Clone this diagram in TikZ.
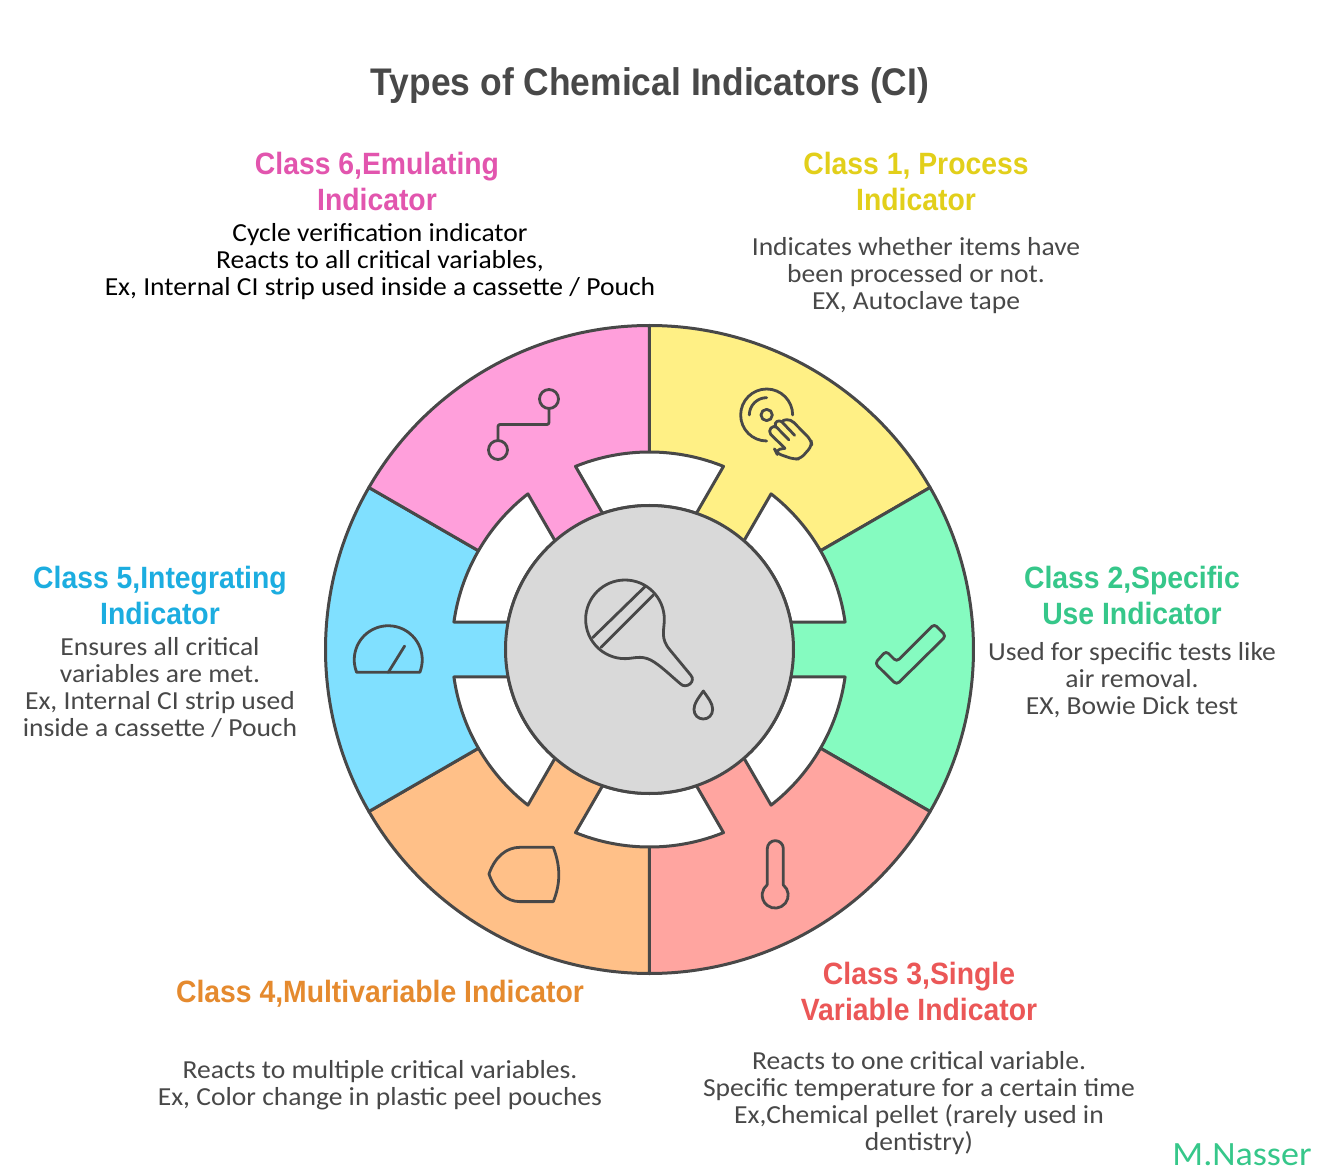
\documentclass[tikz,border=0pt]{standalone}
\usepackage{tikz}
\usetikzlibrary{arrows,positioning}
\usepackage{xcolor}
\usepackage{fontspec}
\setmainfont[FakeStretch=1.06]{Carlito}
\newfontfamily\headfont[FakeStretch=0.92]{Liberation Sans}
\definecolor{linegray}{HTML}{484848}
\definecolor{sixfill}{HTML}{FF9FDB}
\definecolor{onefill}{HTML}{FFF085}
\definecolor{twofill}{HTML}{85FBC0}
\definecolor{threefill}{HTML}{FFA5A0}
\definecolor{fourfill}{HTML}{FFC088}
\definecolor{fivefill}{HTML}{80E0FF}
\definecolor{hubfill}{HTML}{D9D9D9}
\definecolor{sixtext}{HTML}{E255AE}
\definecolor{onetext}{HTML}{E2CF1A}
\definecolor{twotext}{HTML}{36C78A}
\definecolor{threetext}{HTML}{EB5757}
\definecolor{fourtext}{HTML}{E58A2E}
\definecolor{fivetext}{HTML}{1CADE0}

\begin{document}
\begin{tikzpicture}[x=1pt,y=1pt,node distance=0pt,
	wheelpart/.style={draw=linegray,line width=3pt,line join=round},
	iconline/.style={draw=linegray,line width=2.8pt,line cap=round,line join=round},
	pixelframe/.style={shift={(-649.5,649.5)},yscale=-1},
	heading/.style={inner sep=0pt,align=center,font=\headfont\bfseries\fontsize{30.8}{36}\selectfont},
	bodytext/.style={inner sep=0pt,align=center,text=linegray,font=\fontsize{26}{27}\selectfont}]
	\path[use as bounding box,fill=white] (-649.5,-523.5) rectangle (667.5,649.5);

	% wheel
	\draw[wheelpart,fill=onefill]   (0,0) -- (90:324) arc[start angle=90,end angle=30,radius=324] -- cycle;
	\draw[wheelpart,fill=twofill]   (0,0) -- (30:324) arc[start angle=30,end angle=-30,radius=324] -- cycle;
	\draw[wheelpart,fill=threefill] (0,0) -- (-30:324) arc[start angle=-30,end angle=-90,radius=324] -- cycle;
	\draw[wheelpart,fill=fourfill]  (0,0) -- (-90:324) arc[start angle=-90,end angle=-150,radius=324] -- cycle;
	\draw[wheelpart,fill=fivefill]  (0,0) -- (-150:324) arc[start angle=-150,end angle=-210,radius=324] -- cycle;
	\draw[wheelpart,fill=sixfill]   (0,0) -- (150:324) arc[start angle=150,end angle=90,radius=324] -- cycle;

	% white gaps
	\draw[wheelpart,fill=white] (68:197.5) arc[start angle=68,end angle=112,radius=197.5] -- (109:144) arc[start angle=109,end angle=71,radius=144] -- cycle;
	\draw[wheelpart,fill=white] (8:197.5) arc[start angle=8,end angle=52,radius=197.5] -- (49:144) arc[start angle=49,end angle=11,radius=144] -- cycle;
	\draw[wheelpart,fill=white] (-52:197.5) arc[start angle=-52,end angle=-8,radius=197.5] -- (-11:144) arc[start angle=-11,end angle=-49,radius=144] -- cycle;
	\draw[wheelpart,fill=white] (-112:197.5) arc[start angle=-112,end angle=-68,radius=197.5] -- (-71:144) arc[start angle=-71,end angle=-109,radius=144] -- cycle;
	\draw[wheelpart,fill=white] (-172:197.5) arc[start angle=-172,end angle=-128,radius=197.5] -- (-131:144) arc[start angle=-131,end angle=-169,radius=144] -- cycle;
	\draw[wheelpart,fill=white] (128:197.5) arc[start angle=128,end angle=172,radius=197.5] -- (169:144) arc[start angle=169,end angle=131,radius=144] -- cycle;
	\draw[wheelpart,fill=hubfill] (0,0) circle[radius=144];

	% icons
	\begin{scope}[pixelframe]
		% dropper
		\begin{scope}[shift={(570,570)},scale=.3333]
			\draw[iconline] (283,148) arc[start angle=0,end angle=-270,radius=118]
				.. controls (190,266) and (212,255) .. (242,270) .. controls (270,285) and (300,315) .. (332,342)
				.. controls (348,358) and (380,335) .. (362,315) -- (300,240)
				.. controls (270,205) and (283,180) .. (283,148);
			\draw[iconline] (225,50) -- (68,203);
			\draw[iconline] (250,75) -- (93,232);
			\draw[iconline] (400,363) .. controls (385,385) and (372,400) .. (372,418) .. controls (372,436) and (385,447) .. (400,447)
				.. controls (415,447) and (428,436) .. (428,418) .. controls (428,400) and (415,385) .. (400,363) -- cycle;
		\end{scope}
		% path with two ends
		\draw[iconline] (549,399) circle[radius=9.5];
		\draw[iconline] (498,450) circle[radius=9.5];
		\draw[iconline,rounded corners=2pt] (549,408.5) -- (549,424.5) -- (498,424.5) -- (498,440.5);
		% disc and hand
		\begin{scope}[shift={(730,380)},scale=.3333]
			\draw[iconline] (188,105) arc[start angle=0,end angle=-270,radius=78];
			\draw[iconline] (58,105) arc[start angle=-180,end angle=-90,radius=52];
			\draw[iconline] (110,105) circle[radius=17];
			\draw[iconline,rounded corners=5pt] (192,128) -- (243,180) -- (246,197) -- (212,236) -- (192,238) -- (140,220) -- (135,210) -- (165,205);
			\draw[iconline] (165,205) -- (122,163) .. controls (112,150) and (128,133) .. (140,142) -- (177,180);
			\draw[iconline] (137,140) .. controls (130,125) and (148,118) .. (156,126) -- (194,166);
			\draw[iconline] (156,126) .. controls (158,118) and (180,115) .. (192,128);
		\end{scope}
		% check mark
		\begin{scope}[shift={(640,600)},scale=.3333]
			\draw[iconline,rounded corners=3.5pt] (770,185) -- (883,72) -- (918,108) -- (770,254) -- (705,190) -- (738,153) -- cycle;
		\end{scope}
		% thermometer
		\begin{scope}[shift={(640,600)},scale=.3333]
			\draw[iconline] (382,855) -- (382,746) arc[start angle=-180,end angle=0,radius=24] -- (430,855) arc[start angle=-51.3,end angle=231.3,radius=39] -- cycle;
		\end{scope}
		% shield
		\begin{scope}[shift={(320,600)},scale=.3333]
			\draw[iconline] (507,822) .. controls (525,770) and (560,742) .. (600,742) -- (700,742) .. controls (722,800) and (722,850) .. (700,905) -- (600,905) .. controls (560,905) and (525,875) .. (507,822) -- cycle;
			% gauge
			\draw[iconline] (110,217) arc[start angle=-201.7,end angle=21.7,radius=102] -- cycle;
			\draw[iconline] (205,217) -- (254,138);
		\end{scope}
	\end{scope}

	% labels
	\node[inner sep=0pt,text=linegray,font=\headfont\bfseries\fontsize{38.5}{42}\selectfont] (title) at (0.5,564) {Types of Chemical Indicators (CI)};

	\node[heading,text=sixtext] (head6) at (-272.5,468.5) {Class 6,Emulating\\Indicator};
	\node[bodytext,text=black] (body6) [below=13pt of head6,xshift=3pt] {Cycle verification indicator\\Reacts to all critical variables,\\Ex, Internal CI strip used inside a cassette / Pouch};

	\node[heading,text=onetext] (head1) at (266.5,468.5) {Class 1, Process\\Indicator};
	\node[bodytext] (body1) [below=27pt of head1] {Indicates whether items have\\been processed or not.\\EX, Autoclave tape};

	\node[heading,text=twotext] (head2) at (482.5,54.5) {Class 2,Specific\\Use Indicator};
	\node[bodytext] (body2) [below=17.5pt of head2] {Used for specific tests like\\air removal.\\EX, Bowie Dick test};

	\node[heading,text=threetext] (head3) at (269.5,-341.5) {Class 3,Single\\Variable Indicator};
	\node[bodytext] (body3) [below=31pt of head3] {Reacts to one critical variable.\\Specific temperature for a certain time\\Ex,Chemical pellet (rarely used in\\dentistry)};

	\node[heading,text=fourtext] (head4) at (-269.5,-344) {Class 4,Multivariable Indicator};
	\node[bodytext] (body4) [below=52.5pt of head4] {Reacts to multiple critical variables.\\Ex, Color change in plastic peel pouches};

	\node[heading,text=fivetext] (head5) at (-489.5,54.5) {Class 5,Integrating\\Indicator};
	\node[bodytext] (body5) [below=13pt of head5] {Ensures all critical\\variables are met.\\Ex, Internal CI strip used\\inside a cassette / Pouch};

	\node[inner sep=0pt,text=twotext,font=\fontsize{34}{36}\selectfont] (signature) at (592.5,-505.5) {M.Nasser};
\end{tikzpicture}
\end{document}
